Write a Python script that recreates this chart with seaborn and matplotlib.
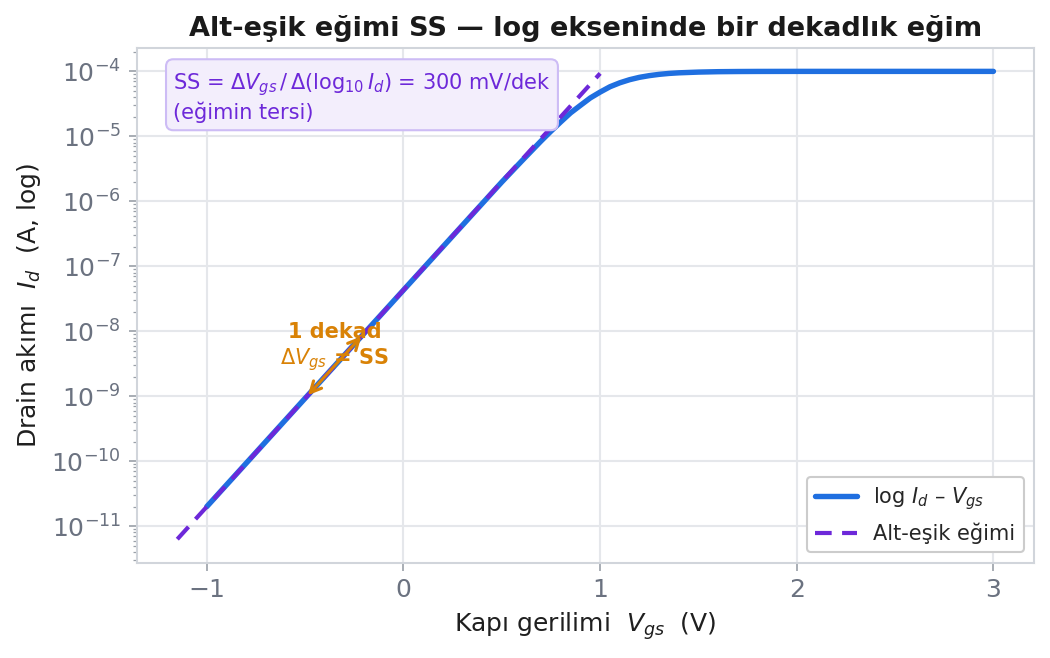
import numpy as np
import pandas as pd
import matplotlib
matplotlib.use("Agg")
import matplotlib.pyplot as plt
import seaborn as sns

# Data
vgs = [-1.0, -0.5, 0.0, 0.5, 0.6, 0.7, 0.75, 0.8, 0.85, 0.9, 0.95, 1.0, 1.05, 1.1, 1.15,
       1.2, 1.25, 1.3, 1.35, 1.4, 1.5, 1.6, 1.7, 1.8, 2.0, 2.5, 3.0]
id_vals = [2.0e-11, 9.3e-10, 4.3e-8, 1.98e-6, 4.13e-6, 8.5e-6, 1.2e-5, 1.67e-5, 2.3e-5,
           3.0e-5, 3.9e-5, 4.8e-5, 5.8e-5, 6.67e-5, 7.45e-5, 8.1e-5, 8.6e-5, 9.0e-5,
           9.3e-5, 9.5e-5, 9.75e-5, 9.89e-5, 9.95e-5, 9.98e-5, 1.0e-4, 1.0e-4, 1.0e-4]
slope_vgs = [-1.15, 1.0]
slope_id = [6.3e-12, 9.3e-5]
arrow_vgs = [-0.5, -0.2]
arrow_id = [9.3e-10, 9.3e-9]

BLUE = "#1f6fe0"
PURPLE = "#6d28d9"
ORANGE = "#d98206"

sns.set_theme(style="whitegrid")
plt.rcParams["font.family"] = ["DejaVu Sans"]

fig, ax = plt.subplots(figsize=(7.0, 4.387), dpi=150)

df_curve = pd.DataFrame({"Vgs": vgs, "Id": id_vals})
df_slope = pd.DataFrame({"Vgs": slope_vgs, "Id": slope_id})

sns.lineplot(data=df_curve, x="Vgs", y="Id", ax=ax, color=BLUE, lw=2.6,
             label=r"log $I_d$ – $V_{gs}$", zorder=3)
sns.lineplot(data=df_slope, x="Vgs", y="Id", ax=ax, color=PURPLE, lw=2.0,
             ls=(0, (4, 2.5)), label="Alt-eşik eğimi", zorder=4)
ax.set_yscale("log")

ax.annotate("", xy=(arrow_vgs[0], arrow_id[0]), xytext=(arrow_vgs[1], arrow_id[1]),
            arrowprops=dict(arrowstyle="<->", color=ORANGE, lw=1.5,
                            shrinkA=2, shrinkB=2, mutation_scale=13), zorder=5)
ax.text(-0.35, 5.6e-9, "1 dekad\n$\\Delta V_{gs}$ = SS", color=ORANGE,
        fontsize=10, fontweight="bold", ha="center", va="center", zorder=6,
        linespacing=1.25)

ax.text(0.041, 0.955,
        "SS = $\\Delta V_{gs}\\,/\\,\\Delta(\\log_{10} I_d)$ = 300 mV/dek\n(eğimin tersi)",
        transform=ax.transAxes, ha="left", va="top", fontsize=10, color=PURPLE,
        bbox=dict(boxstyle="round,pad=0.35", fc="#f3eefc", ec="#cdbcf5", lw=1.0),
        zorder=7)

ax.set_title("Alt-eşik eğimi SS — log ekseninde bir dekadlık eğim",
             fontsize=13, fontweight="bold", color="#1a1a1a")
ax.set_xlabel("Kapı gerilimi  $V_{gs}$  (V)", fontsize=12, color="#1f1f1f")
ax.set_ylabel("Drain akımı  $I_d$  (A, log)", fontsize=12, color="#1f1f1f")

ax.set_xticks([-1, 0, 1, 2, 3])
ax.tick_params(axis="both", labelsize=12, labelcolor="#6b7280", colors="#9aa0a8",
               length=4, width=0.8, left=True, bottom=True)
ax.tick_params(axis="y", which="minor", left=True, length=2, width=0.6, colors="#9aa0a8")
ax.yaxis.set_major_locator(matplotlib.ticker.LogLocator(base=10, numticks=20))
ax.yaxis.set_minor_locator(matplotlib.ticker.LogLocator(base=10, subs=np.arange(2, 10), numticks=20))
ax.yaxis.set_minor_formatter(matplotlib.ticker.NullFormatter())

ax.grid(True, which="major", color="#e5e7eb", lw=1.0)
ax.grid(False, which="minor")
for s in ax.spines.values():
    s.set_color("#d1d5db")
    s.set_linewidth(1.0)
ax.set_facecolor("white")

leg = ax.legend(loc="lower right", fontsize=10, frameon=True, fancybox=True,
                edgecolor="#cccccc", framealpha=1.0)

fig.subplots_adjust(left=0.13, right=0.985, top=0.927, bottom=0.145)
fig.savefig("out.png", dpi=150)
